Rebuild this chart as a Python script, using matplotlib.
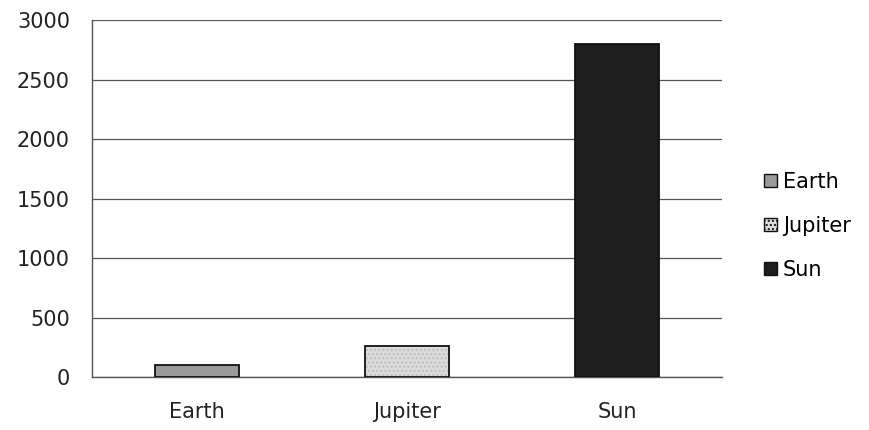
import matplotlib.pyplot as plt
from matplotlib.patches import Patch

categories = ["Earth", "Jupiter", "Sun"]
values = [100, 260, 2800]
colors = ["#9a9a9a", "#dcdcdc", "#1e1e1e"]
hatches = ["", "....", ""]
yticks = [0, 500, 1000, 1500, 2000, 2500, 3000]

plt.rcParams["font.family"] = ["DejaVu Sans"]

fig = plt.figure(figsize=(8.7, 4.3), dpi=100)
ax = fig.add_axes([0.106, 0.123, 0.724, 0.830])

x = list(range(len(categories)))
# fill with faint hatch, then a dark outline on top
fill = ax.bar(x, values, width=0.4, color=colors, edgecolor="#bdbdbd",
              linewidth=0, zorder=3)
for b, h in zip(fill, hatches):
    b.set_hatch(h)
ax.bar(x, values, width=0.4, color="none", edgecolor="#111111",
       linewidth=1.3, zorder=4)

ax.set_xlim(-0.5, 2.5)
ax.set_ylim(0, 3000)
ax.set_yticks(yticks)
ax.set_xticks(x)
ax.set_xticklabels(categories)
ax.tick_params(axis="both", length=0, labelsize=15, colors="#222222")
ax.tick_params(axis="x", pad=18)
ax.tick_params(axis="y", pad=16)
ax.grid(axis="y", color="#555555", linewidth=0.9, zorder=0)

for s in ["top", "right"]:
    ax.spines[s].set_visible(False)
for s in ["left", "bottom"]:
    ax.spines[s].set_color("#555555")
    ax.spines[s].set_linewidth(1.0)

handles = [Patch(facecolor=c, edgecolor="#111111", hatch=h, label=n)
           for c, h, n in zip(colors, hatches, categories)]
fig.legend(handles=handles, loc="center left", bbox_to_anchor=(0.857, 0.475),
           frameon=False, fontsize=15, handlelength=0.6, handleheight=0.6,
           handletextpad=0.3, labelspacing=1.15)

fig.savefig("out.png", dpi=100)
